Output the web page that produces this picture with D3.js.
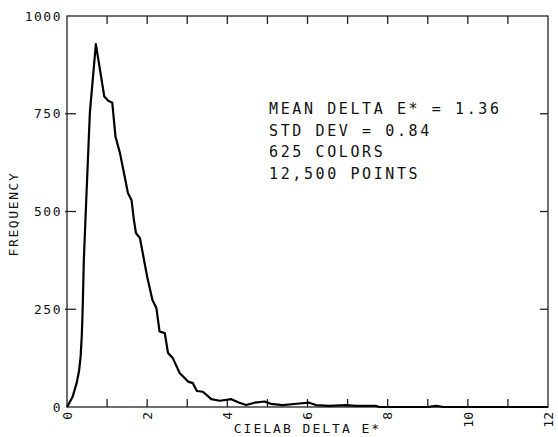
<!DOCTYPE html>
<html>
<head>
<meta charset="utf-8">
<script src="https://cdn.jsdelivr.net/npm/d3@7"></script>
<style>
	body { margin: 0; background: #fff; }
	text { font-family: "DejaVu Sans Mono", monospace; fill: #111; }
</style>
</head>
<body>
<svg width="558" height="437"></svg>
<script>

// values
var deltaE = [0, 0.03, 0.14, 0.24, 0.30, 0.34, 0.37, 0.39, 0.42, 0.47, 0.57, 0.72, 0.93, 1.03, 1.13, 1.21, 1.32, 1.44,
	1.52, 1.61, 1.67, 1.72, 1.82, 2.00, 2.13, 2.23, 2.31, 2.44, 2.52, 2.64, 2.81, 3.02, 3.14, 3.24,
	3.39, 3.60, 3.81, 4.10, 4.30, 4.47, 4.68, 4.93, 5.09, 5.38, 5.80, 6.04, 6.21, 6.54, 6.96, 7.21,
	7.70, 7.79, 9.0, 9.2, 9.4, 12];
var frequency = [0, 5, 26, 61, 92, 129, 185, 248, 376, 504, 752, 928, 794, 783, 778, 691, 650, 589,
	547, 529, 478, 445, 432, 333, 274, 253, 193, 189, 138, 125, 87, 65, 61, 41,
	39, 20, 16, 20, 11, 5, 11, 14, 8, 5, 9, 11, 5, 3, 5, 3,
	3, 0, 0, 3, 0, 0];

var xTicks = [0, 1, 2, 3, 4, 5, 6, 7, 8, 9, 10, 11, 12];
var xLabels = [0, 2, 4, 6, 8, 10, 12];
var yTicks = [250, 500, 750];
var yLabels = [0, 250, 500, 750, 1000];
var statLines = ["MEAN DELTA E* = 1.36", "STD DEV = 0.84", "625 COLORS", "12,500 POINTS"];

var svg = d3.select("svg"),
	width = +svg.attr("width"),
	height = +svg.attr("height");

// plot box (note: "top" is taken by window.top, so prefixed names)
var plotL = 67, plotR = 548, plotT = 16, plotB = 407;

var x = d3.scaleLinear().domain([0, 12]).range([plotL, plotR]);
var y = d3.scaleLinear().domain([0, 1000]).range([plotB, plotT]);

var frame = svg.append("g")
	.style("stroke", "#222")
	.style("stroke-width", 1.3)
	.style("fill", "none");

frame.append("rect")
	.attr("x", x(0))
	.attr("y", y(1000))
	.attr("width", x(12) - x(0))
	.attr("height", y(0) - y(1000));

// ticks, all pointing into the plot
frame.selectAll("line.bx")
	.data(xTicks.slice(1, -1))
	.enter().append("line")
	.attr("x1", function (d) { return x(d); })
	.attr("x2", function (d) { return x(d); })
	.attr("y1", y(0))
	.attr("y2", y(0) - 8);

frame.selectAll("line.tx")
	.data(xTicks.slice(1, -1))
	.enter().append("line")
	.attr("x1", function (d) { return x(d); })
	.attr("x2", function (d) { return x(d); })
	.attr("y1", y(1000))
	.attr("y2", y(1000) + 8);

frame.selectAll("line.ly")
	.data(yTicks)
	.enter().append("line")
	.attr("x1", x(0) - 2)
	.attr("x2", x(0) + 9)
	.attr("y1", function (d) { return y(d); })
	.attr("y2", function (d) { return y(d); });

frame.selectAll("line.ry")
	.data(yTicks)
	.enter().append("line")
	.attr("x1", x(12))
	.attr("x2", x(12) - 8)
	.attr("y1", function (d) { return y(d); })
	.attr("y2", function (d) { return y(d); });

// tick labels
svg.append("g")
	.selectAll("text")
	.data(yLabels)
	.enter().append("text")
	.attr("x", x(0) - 5)
	.attr("y", function (d) { return y(d); })
	.attr("dy", "0.36em")
	.attr("text-anchor", "end")
	.style("font-size", "13px")
	.style("letter-spacing", "1.5px")
	.text(function (d) { return d; });

svg.append("g")
	.selectAll("text")
	.data(xLabels)
	.enter().append("text")
	.attr("transform", function (d) { return "translate(" + x(d) + "," + (y(0) + 5) + ") rotate(-90)"; })
	.attr("dy", "0.36em")
	.attr("text-anchor", "end")
	.style("font-size", "13px")
	.text(function (d) { return d; });

// axis titles
svg.append("text")
	.attr("x", (x(0) + x(12)) / 2)
	.attr("y", 433)
	.attr("text-anchor", "middle")
	.style("font-size", "13px")
	.style("letter-spacing", "2px")
	.text("CIELAB DELTA E*");

svg.append("text")
	.attr("transform", "translate(18,214) rotate(-90)")
	.attr("text-anchor", "middle")
	.style("font-size", "13px")
	.style("letter-spacing", "1.6px")
	.text("FREQUENCY");

// the distribution curve
var line = d3.line()
	.x(function (d, i) { return x(deltaE[i]); })
	.y(function (d) { return y(d); });

svg.append("path")
	.datum(frequency)
	.attr("d", line)
	.style("fill", "none")
	.style("stroke", "#000")
	.style("stroke-width", 2.2)
	.style("stroke-linejoin", "round");

// stats block
svg.append("g")
	.selectAll("text")
	.data(statLines)
	.enter().append("text")
	.attr("x", 269)
	.attr("y", function (d, i) { return 114 + i * 21.5; })
	.style("font-size", "15px")
	.style("letter-spacing", "2.6px")
	.text(function (d) { return d; });

</script>
</body>
</html>
